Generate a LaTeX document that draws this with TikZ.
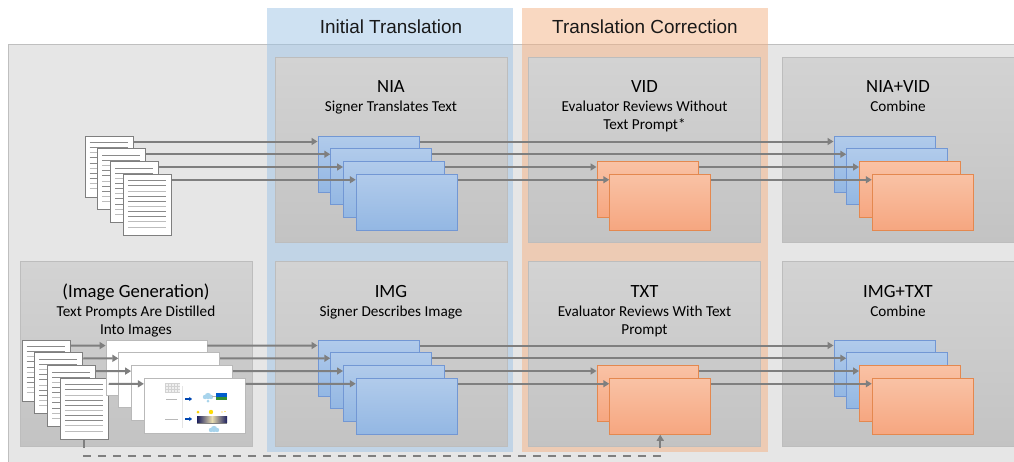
\documentclass[tikz,border=0pt]{standalone}
\usepackage{fontspec}
\setmainfont{Carlito}
\newfontfamily\hdfont{Liberation Sans}
\usetikzlibrary{arrows.meta}

\definecolor{outergray}{HTML}{E6E6E6}
\definecolor{outerline}{HTML}{BFBFBF}
\definecolor{paneltop}{HTML}{D3D3D3}
\definecolor{panelbot}{HTML}{C3C3C3}
\definecolor{panelline}{HTML}{BDBDBD}
\definecolor{bandblue}{HTML}{9DC3E6}
\definecolor{bandorange}{HTML}{F4B183}
\definecolor{bluetop}{HTML}{B1CBEB}
\definecolor{bluebot}{HTML}{93B7E3}
\definecolor{blueline}{HTML}{7297D4}
\definecolor{orgtop}{HTML}{F9C2A5}
\definecolor{orgbot}{HTML}{F6A680}
\definecolor{orgline}{HTML}{E4884F}
\definecolor{arrgray}{HTML}{7F7F7F}
\definecolor{docdark}{HTML}{8A8A8A}
\definecolor{doclight}{HTML}{BDBDBD}
\definecolor{navybar}{HTML}{1C1F5E}
\definecolor{midbar}{HTML}{E8DDB0}
\definecolor{cloudblue}{HTML}{A8D4EC}

\begin{document}
\begin{tikzpicture}[x=0.75pt,y=-0.75pt]
	\tikzset{
		panel/.style={draw=panelline, top color=paneltop, bottom color=panelbot, minimum width=174pt, minimum height=138.75pt, inner sep=0pt},
		ttl/.style={font=\fontsize{14}{16}\selectfont, anchor=base, inner sep=0pt},
		sub/.style={font=\fontsize{11.4}{13.5}\selectfont, align=center, anchor=base, inner sep=0pt},
		hdr/.style={font=\hdfont\fontsize{14.2}{16}\selectfont, text=black!90, inner sep=0pt},
		doc/.style={draw=arrgray, fill=white, line width=0.75pt, minimum width=36pt, minimum height=45.75pt, inner sep=0pt},
		docln/.style={line width=0.75pt},
		pic/.style={draw=gray!55, fill=white, line width=0.6pt, minimum width=75.75pt, minimum height=41.25pt, inner sep=0pt},
		bluebox/.style={draw=blueline, top color=bluetop, bottom color=bluebot, line width=0.75pt, minimum width=75.75pt, minimum height=42pt, inner sep=0pt},
		orangebox/.style={draw=orgline, top color=orgtop, bottom color=orgbot, line width=0.75pt, minimum width=75.75pt, minimum height=42pt, inner sep=0pt},
		arr/.style={draw=arrgray, line width=1.5pt, -{Triangle[length=4.5pt,width=5.25pt]}},
		lnk/.style={arr, dash pattern=on 6pt off 5.25pt}
	}
	\useasboundingbox (0,0) rectangle (1014,461);
	
	% background and the two bands
	\draw[outerline, fill=outergray] (8,44) rectangle (1030,480);
	\fill[bandblue, opacity=0.5] (267,8) rectangle (513,452);
	\fill[bandorange, opacity=0.5] (522,8) rectangle (768,452);
	\node[hdr] (hinit) at (391,27) {Initial Translation};
	\node[hdr] (hcorr) at (645,27) {Translation Correction};
	
	% stages
	\foreach \p/\x/\y in {pnia/391/149.5, pvid/644.5/149.5, pnv/898/149.5, pgen/136/354, pimg/391/354, ptxt/644.5/354, pit/898/354}
	\node[panel] (\p) at (\x,\y) {};
	
	\foreach \p/\t in {pnia/NIA, pvid/VID, pnv/NIA+VID, pgen/(Image Generation), pimg/IMG, ptxt/TXT, pit/IMG+TXT}
	\node[ttl] (t\p) at ([yshift=-27pt]\p.north) {\t};
	
	% base of a two-line node is its last line
	\foreach \p/\n/\t in {pnia/0/{Signer Translates Text}, pvid/1/{Evaluator Reviews Without\\Text Prompt*}, pnv/0/{Combine}, pgen/1/{Text Prompts Are Distilled\\Into Images}, pimg/0/{Signer Describes Image}, ptxt/1/{Evaluator Reviews With Text\\Prompt}, pit/0/{Combine}}
	\node[sub] (s\p) at ([yshift={-41.25pt-\n*13.5pt}]\p.north) {\t};
	
	% text prompts
	\foreach \i in {1,...,4} {
		\pgfmathsetmacro\d{12.75*(\i-1)}
		\node[doc] (td\i) at ({109+\d},{166.5+\d}) {};
		\foreach \k/\c in {0/docdark,1/docdark,2/doclight,3/docdark,4/docdark,5/doclight,6/docdark,7/docdark,8/doclight,9/doclight}
		\draw[docln, \c] (td\i.north west) ++(5,{7+5.15*\k}) -- ++(38,0);
		\node[doc] (bd\i) at ({46+\d},{370.5+\d}) {};
		\foreach \k/\c in {0/docdark,1/docdark,2/doclight,3/docdark,4/docdark,5/doclight,6/docdark,7/docdark,8/doclight,9/doclight}
		\draw[docln, \c] (bd\i.north west) ++(5,{7+5.15*\k}) -- ++(38,0);
	}
	
	% generated images
	\foreach \i in {1,...,4} {
		\pgfmathsetmacro\d{12.75*(\i-1)}
		\node[pic] (im\i) at ({156.5+\d},{367.5+\d}) {};
	}
	\fill[gray!12] (165,383) rectangle (180,393);
	\foreach \k in {0,...,4} \draw[gray!35, line width=0.3pt] ({165+3*\k},383) -- ({165+3*\k},393);
	\foreach \k in {0,...,3} \draw[gray!35, line width=0.3pt] (165,{383+3*\k}) -- (180,{383+3*\k});
	\draw[gray!20, line width=0.4pt] (182,386) -- (182,428);
	\draw[gray!55, line width=0.7pt] (166,399) -- (177,399);
	\draw[gray!55, line width=0.7pt] (165,419) -- (178,419);
	\draw[blue!60!cyan!70!black, line width=1pt, -{Triangle[length=2pt,width=3pt]}] (185,399) -- (192,399);
	\draw[blue!60!cyan!70!black, line width=1pt, -{Triangle[length=2pt,width=3pt]}] (185,419) -- (192,419);
	\fill[cloudblue] (208,396) circle (3.2) (205,397) circle (2.2) (211,397) circle (2.2);
	\fill[cloudblue] (208,401) circle (1.5);
	\draw[gray!60, line width=0.4pt] (212,396) -- (216,396);
	\fill[blue!55!cyan!80!black] (216,393) rectangle (227,397);
	\fill[green!45!black!80] (216,397) rectangle (227,399.5);
	\fill[yellow!70!orange] (198,412) circle (1.5);
	\fill[yellow!80!orange] (211,412) circle (2.2);
	\fill[yellow!60!orange] (222,412) circle (0.6) (225,411.5) circle (0.6);
	\shade[left color=navybar, right color=navybar, middle color=midbar] (197,416) rectangle (227,422);
	\draw[gray, line width=0.3pt] (197,423) -- (227,423);
	\fill[cloudblue] (214,429) circle (3.2) (211,430) circle (2.2) (217,430) circle (2.2);
	
	% translations
	\foreach \i in {1,...,4} {
		\pgfmathsetmacro\d{12.75*(\i-1)}
		\node[bluebox] (na\i) at ({368.5+\d},{164+\d}) {};
		\node[bluebox] (ig\i) at ({368.5+\d},{368+\d}) {};
	}
	\foreach \i in {3,4} {
		\pgfmathsetmacro\d{12.75*(\i-1)}
		\pgfmathsetmacro\e{12.75*(\i-3)}
		\node[orangebox] (vd\i) at ({647.5+\e},{164+\d}) {};
		\node[orangebox] (tx\i) at ({647.5+\e},{368+\d}) {};
	}
	\foreach \i/\s in {1/bluebox,2/bluebox,3/orangebox,4/orangebox} {
		\pgfmathsetmacro\d{12.75*(\i-1)}
		\node[\s] (nv\i) at ({884.5+\d},{164+\d}) {};
		\node[\s] (it\i) at ({884.5+\d},{368+\d}) {};
	}
	
	% connectors
	\foreach \i in {1,...,4} {
		\draw[arr] ([yshift=-4.5pt]td\i.north east) -- ([yshift=-4.5pt]na\i.north west);
		\draw[arr] ([yshift=-4.5pt]bd\i.north east) -- ([yshift=-4.5pt]im\i.north west);
		\draw[arr] ([yshift=-4.5pt]im\i.north east) -- ([yshift=-4.5pt]ig\i.north west);
	}
	\foreach \i in {1,2} {
		\draw[arr] ([yshift=-4.5pt]na\i.north east) -- ([yshift=-4.5pt]nv\i.north west);
		\draw[arr] ([yshift=-4.5pt]ig\i.north east) -- ([yshift=-4.5pt]it\i.north west);
	}
	\foreach \i in {3,4} {
		\draw[arr] ([yshift=-4.5pt]na\i.north east) -- ([yshift=-4.5pt]vd\i.north west);
		\draw[arr] ([yshift=-4.5pt]vd\i.north east) -- ([yshift=-4.5pt]nv\i.north west);
		\draw[arr] ([yshift=-4.5pt]ig\i.north east) -- ([yshift=-4.5pt]tx\i.north west);
		\draw[arr] ([yshift=-4.5pt]tx\i.north east) -- ([yshift=-4.5pt]it\i.north west);
	}
	\draw[lnk] (bd4.south) -- ++(0,16) -| (tx4.south);
	
\end{tikzpicture}
\end{document}
